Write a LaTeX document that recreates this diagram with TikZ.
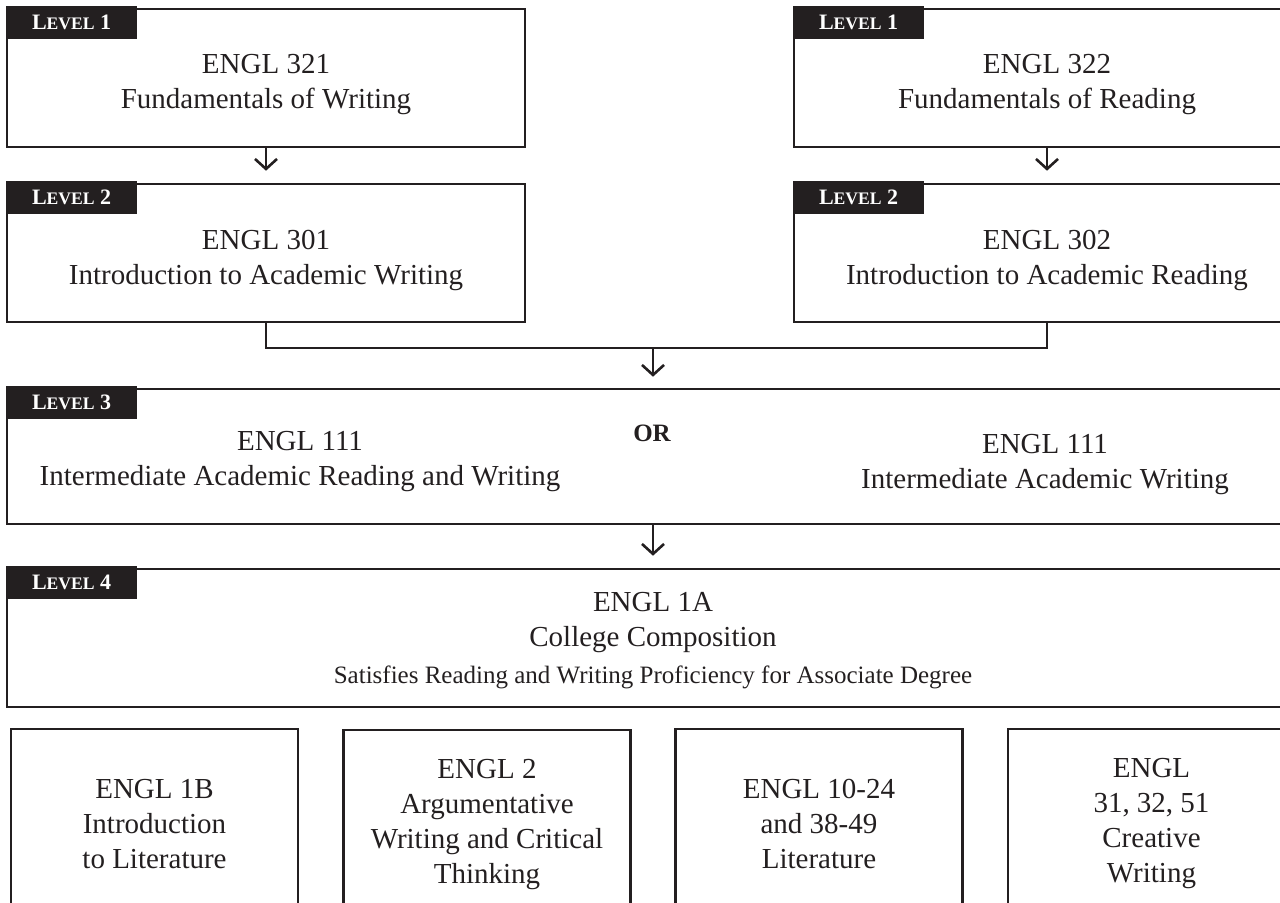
\documentclass[tikz,border=0pt]{standalone}
\usepackage{fontspec}
\setmainfont{Liberation Serif}
\usepackage{tikz}
\usetikzlibrary{positioning}
\usetikzlibrary{arrows.meta}
\definecolor{ink}{HTML}{231F20}
\tikzset{
  >={Straight Barb[length=5pt,width=11pt]},
  txt/.style={text=ink, align=center, inner sep=0pt,
    font=\fontsize{14.5}{17.5}\selectfont},
  box/.style={txt, draw=ink, line width=1.3pt},
  level/.style={box, minimum width=259pt, minimum height=69pt},
  course/.style={box, minimum width=143.5pt, minimum height=95pt},
  tab/.style={fill=ink, text=white, inner sep=0pt, anchor=north west,
    minimum width=65.5pt, minimum height=16.5pt,
    font=\fontsize{11}{11}\selectfont},
  link/.style={draw=ink, line width=1.3pt},
}
\newcommand{\levelname}[1]{\textbf{L{\fontsize{8.8}{8.8}\selectfont EVEL} #1}}

\begin{document}
\begin{tikzpicture}[x=0.5pt,y=-0.5pt]
\clip (0,0) rectangle (1280,902);

% ---------------- Level 1 ----------------
\node[level] (wrtone) at (266,78) {};
\node[level, minimum width=253pt] (rdgone) at (1047,78) {};
\node[txt] (wrtonetxt) at ([yshift=-3.5pt]wrtone.center) {ENGL 321\\Fundamentals of Writing};
\node[txt] (rdgonetxt) at ([yshift=-3.5pt]rdgone.center) {ENGL 322\\Fundamentals of Reading};
\node[tab] (tabwone) at ([yshift=1pt]wrtone.north west) {\levelname{1}};
\node[tab] (tabrone) at ([yshift=1pt]rdgone.north west) {\levelname{1}};

% ---------------- Level 2 ----------------
\node[level] (wrttwo) at (266,253) {};
\node[level, minimum width=253pt] (rdgtwo) at (1047,253) {};
\node[txt] (wrttwotxt) at ([yshift=-3.5pt]wrttwo.center) {ENGL 301\\Introduction to Academic Writing};
\node[txt] (rdgtwotxt) at ([yshift=-3.5pt]rdgtwo.center) {ENGL 302\\Introduction to Academic Reading};
\node[tab] (tabwtwo) at ([yshift=1pt]wrttwo.north west) {\levelname{2}};
\node[tab] (tabrtwo) at ([yshift=1pt]rdgtwo.north west) {\levelname{2}};

\draw[link,->,shorten >=6pt] (wrtone) -- (wrttwo);
\draw[link,->,shorten >=6pt] (rdgone) -- (rdgtwo);

% ---------------- Level 3 ----------------
\node[box, minimum width=646pt, minimum height=67.5pt] (lvlthree) at (653,456.5) {};
\node[tab] (tabthree) at ([yshift=1pt]lvlthree.north west) {\levelname{3}};
\node[txt] (engrw) at (300,462) {ENGL 111\\Intermediate Academic Reading and Writing};
\node[txt, font=\fontsize{12.5}{12.5}\selectfont\bfseries] (orword) at (652,433) {OR};
\node[txt] (engw) at (1045,465) {ENGL 111\\Intermediate Academic Writing};

\coordinate (join) at (653,348);
\draw[link] (wrttwo.south) |- (join) -| (rdgtwo.south);
\draw[link,->,shorten >=5.5pt] (join) -- (lvlthree);

% ---------------- Level 4 ----------------
\node[box, minimum width=646pt, minimum height=69pt] (lvlfour) at (653,638) {};
\node[txt] (comp) at (653,641)
  {ENGL 1A\\College Composition\\[1pt]
   {\fontsize{12.5}{14}\selectfont Satisfies Reading and Writing Proficiency for Associate Degree}};
\node[tab] (tabfour) at ([yshift=1pt]lvlfour.north west) {\levelname{4}};

\draw[link,->,shorten >=6pt] (lvlthree) -- (lvlfour);

% ---------------- Next courses ----------------
\node[course] (litone) at (154.5,824) {ENGL 1B\\Introduction\\to Literature};
\node[course] (argue) at (487,825) {ENGL 2\\Argumentative\\Writing and Critical\\Thinking};
\node[course] (littwo) at (819,824) {ENGL 10-24\\and 38-49\\Literature};
\node[course] (creative) at (1151.5,824) {ENGL\\31, 32, 51\\Creative\\Writing};

\end{tikzpicture}
\end{document}
